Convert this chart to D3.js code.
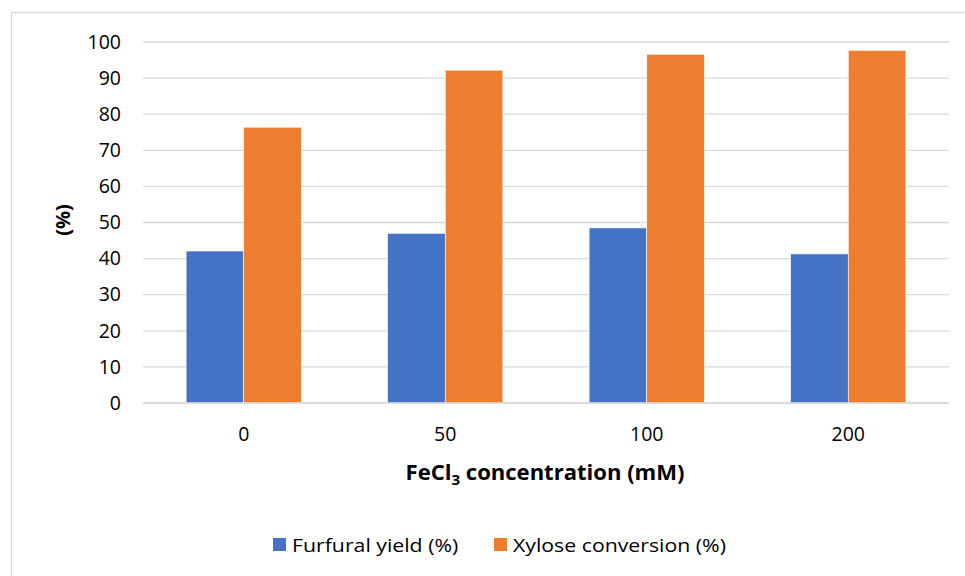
<!DOCTYPE html>
<html>
<head>
<meta charset="utf-8">
<script src="https://cdn.jsdelivr.net/npm/d3@7"></script>
<style>
  html, body { margin: 0; padding: 0; background: #fff; }
  svg { display: block; font-family: "Open Sans", Lato, sans-serif; }
</style>
</head>
<body>
<svg id="chart" width="965" height="576"></svg>
<script>
// FeCl3 concentration (mM) categories and measured percentages
const categories = ["0", "50", "100", "200"];
const furfuralYield = [42.1, 47.0, 48.5, 41.3];
const xyloseConversion = [76.4, 92.2, 96.6, 97.7];
const seriesNames = ["Furfural yield (%)", "Xylose conversion (%)"];
const seriesColors = ["#4472C4", "#ED7D31"];
const yTicks = [0, 10, 20, 30, 40, 50, 60, 70, 80, 90, 100];

const svg = d3.select("#chart");
const W = 965, H = 576;
const plot = { left: 143, right: 949, top: 42, bottom: 403 };
const FONT = "'Open Sans', Lato, sans-serif";

// chart frame
svg.append("rect")
  .attr("x", 11.5).attr("y", 12.5)
  .attr("width", W + 20).attr("height", H + 20)
  .attr("fill", "#fff").attr("stroke", "#d9d9d9").attr("stroke-width", 1.3);

const x0 = d3.scaleBand()
  .domain(categories)
  .range([plot.left, plot.right])
  .paddingInner(0.428)
  .paddingOuter(0.214);

const x1 = d3.scaleBand()
  .domain(seriesNames)
  .range([0, x0.bandwidth()])
  .padding(0);

const y = d3.scaleLinear().domain([0, 100]).range([plot.bottom, plot.top]);

// gridlines
svg.append("g")
  .selectAll("line")
  .data(yTicks)
  .join("line")
  .attr("x1", plot.left).attr("x2", plot.right)
  .attr("y1", d => y(d)).attr("y2", d => y(d))
  .attr("stroke", "#d9d9d9").attr("stroke-width", 1.3);

// y axis labels
const yAxis = d3.axisLeft(y).tickValues(yTicks).tickSize(0).tickPadding(0);
const gy = svg.append("g")
  .attr("transform", `translate(${plot.left - 22},0)`)
  .call(yAxis);
gy.select(".domain").remove();
gy.selectAll("text")
  .attr("font-size", 19.5).attr("fill", "#000")
  .attr("font-family", FONT);

// bars
const rows = categories.map((c, i) => ({ cat: c, values: [furfuralYield[i], xyloseConversion[i]] }));
const groups = svg.append("g")
  .selectAll("g")
  .data(rows)
  .join("g")
  .attr("transform", d => `translate(${x0(d.cat)},0)`);

groups.selectAll("rect")
  .data(d => d.values.map((v, j) => ({ name: seriesNames[j], value: v, color: seriesColors[j] })))
  .join("rect")
  .attr("x", d => x1(d.name))
  .attr("y", d => y(d.value))
  .attr("width", x1.bandwidth())
  .attr("height", d => y(0) - y(d.value))
  .attr("fill", d => d.color)
  .attr("stroke", "#fff").attr("stroke-width", 0.6);

// x axis
const xAxis = d3.axisBottom(x0).tickSize(0).tickPadding(0);
const gx = svg.append("g")
  .attr("transform", `translate(0,${plot.bottom + 24})`)
  .call(xAxis);
gx.select(".domain").remove();
gx.selectAll("text")
  .attr("font-size", 19.5).attr("fill", "#000")
  .attr("font-family", FONT);

// baseline
svg.append("line")
  .attr("x1", plot.left).attr("x2", plot.right)
  .attr("y1", plot.bottom).attr("y2", plot.bottom)
  .attr("stroke", "#d9d9d9").attr("stroke-width", 1.3);

// x axis title
const xt = svg.append("g")
  .attr("transform", `translate(${(plot.left + plot.right) / 2 - 1},480) scale(1.05,1)`)
  .append("text")
  .attr("text-anchor", "middle")
  .attr("font-size", 21).attr("font-weight", "bold").attr("fill", "#000");
xt.append("tspan").text("FeCl");
xt.append("tspan").attr("font-size", 14.5).attr("dy", 5).text("3");
xt.append("tspan").attr("dy", -5).text(" concentration (mM)");

// y axis title
svg.append("text")
  .attr("transform", `translate(70,220) rotate(-90)`)
  .attr("text-anchor", "middle")
  .attr("font-size", 20).attr("font-weight", "bold").attr("fill", "#000")
  .text("(%)");

// legend
const legendItems = [
  { name: seriesNames[0], color: seriesColors[0], x: 273 },
  { name: seriesNames[1], color: seriesColors[1], x: 494 }
];
const lg = svg.append("g")
  .selectAll("g")
  .data(legendItems)
  .join("g")
  .attr("transform", d => `translate(${d.x},538)`);
lg.append("rect")
  .attr("width", 13).attr("height", 13)
  .attr("fill", d => d.color);
lg.append("text")
  .attr("transform", "translate(19,13.5) scale(1.12,1)")
  .attr("font-size", 19).attr("fill", "#000")
  .text(d => d.name);
</script>
</body>
</html>
